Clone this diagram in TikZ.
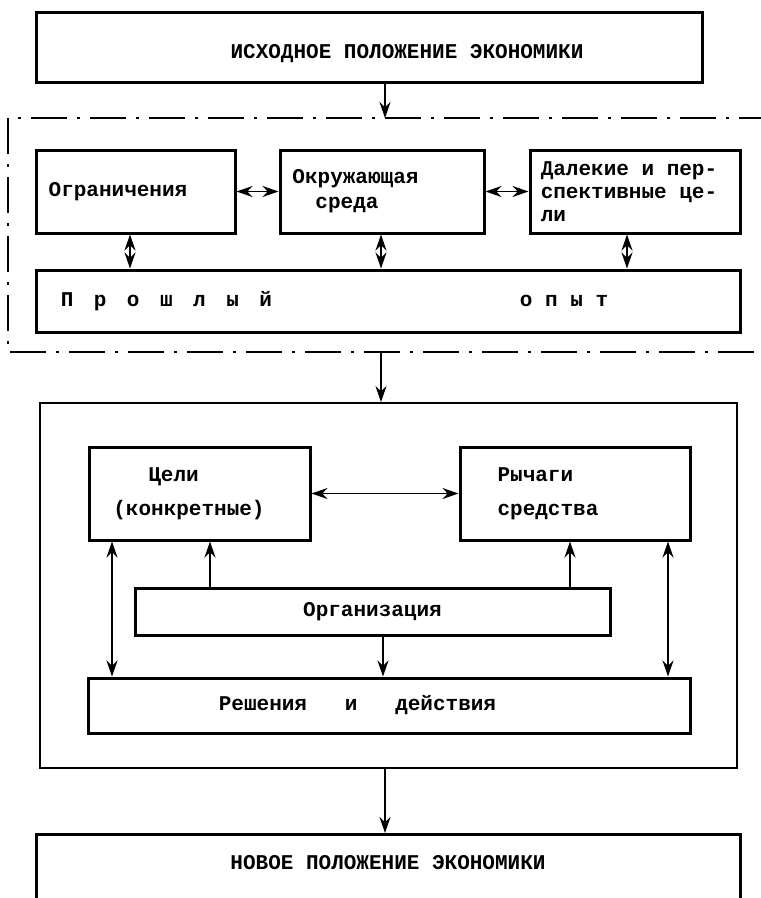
\documentclass[tikz,border=0pt]{standalone}
\usepackage{fontspec}
\setmainfont{Liberation Mono}
\usetikzlibrary{arrows.meta}
% fixed gap between the spaced-out letters of the "past experience" label
\newcommand\letgap{\hspace*{20.5pt}}
\begin{document}
\begin{tikzpicture}[x=1pt,y=-1pt,
  font=\fontsize{21}{25}\selectfont\bfseries,
  box/.style={draw, line width=3pt, inner sep=0pt, align=left},
  link/.style={line width=1.8pt, -{Stealth[length=16pt,width=11pt]}},
  dlink/.style={line width=1.8pt, {Stealth[length=16pt,width=11pt]}-{Stealth[length=16pt,width=11pt]}},
  frameline/.style={line width=2pt, dash pattern=on 36pt off 10pt on 3pt off 10pt}]

\clip (0,0) rectangle (761,898);
\fill[white] (0,0) rectangle (761,898);

% initial state
\node[box, minimum width=666, minimum height=70, text height=26pt, text depth=4pt]
  (start) at (369,47) {\hspace*{76pt}ИСХОДНОЕ ПОЛОЖЕНИЕ ЭКОНОМИКИ};

% dash-dot frame around the background factors (open on the right)
\draw[frameline] (775,118) -- (8,118) -- (8,352) -- (775,352);
\coordinate (ftop) at (385,118);
\coordinate (fbot) at (381,352);

\node[box, minimum width=199, minimum height=83] (lim) at (135.5,191.5)
  {Ограничения\hspace*{35pt}};
\node[box, minimum width=204, minimum height=83] (env) at (382,191.5)
  {Окружающая\hspace*{53pt}\\\hspace*{23pt}среда};
\node[box, minimum width=210, minimum height=83,
      font=\fontsize{21}{23}\selectfont\bfseries]
  (far) at (635,191.5) {Далекие и пер-\hspace*{12pt}\\спективные це-\\ли};
\node[box, minimum width=704, minimum height=62] (past) at (388,301)
  {П\letgap р\letgap о\letgap ш\letgap л\letgap ы\letgap й\hspace*{248pt}о п ы т\hspace*{107pt}};

\draw[link] (start.south -| ftop) -- (ftop);
\draw[dlink] (lim.east) -- (env.west);
\draw[dlink] (env.east) -- (far.west);
\draw[dlink] (lim.south -| 130,0) -- (past.north -| 130,0);
\draw[dlink] (env.south -| 381,0) -- (past.north -| 381,0);
\draw[dlink] (far.south -| 627,0) -- (past.north -| 627,0);

% decision block
\node[draw, line width=1.8pt, minimum width=697, minimum height=365, inner sep=0pt]
  (core) at (388.5,585.5) {};
\draw[link] (fbot) -- (fbot |- core.north);

\node[box, minimum width=221, minimum height=93] (goals) at (199.5,493.5)
  {\hspace*{35pt}Цели\\[9pt](конкретные)\hspace*{21pt}};
\node[box, minimum width=230, minimum height=93] (levers) at (575,493.5)
  {Рычаги\\[9pt]средства\hspace*{54pt}};
\node[box, minimum width=475, minimum height=47] (org) at (372.5,611.5)
  {Организация};
\node[box, minimum width=602, minimum height=55] (act) at (389,705.5)
  {Решения\ \ \ и\ \ \ действия\hspace*{63pt}};

\draw[dlink] (goals.east) -- (levers.west);
\draw[dlink] (goals.south -| 112,0) -- (act.north -| 112,0);
\draw[link] (org.north -| 210,0) -- (goals.south -| 210,0);
\draw[link] (org.north -| 570,0) -- (levers.south -| 570,0);
\draw[dlink] (levers.south -| 668,0) -- (act.north -| 668,0);
\draw[link] (org.south -| 383,0) -- (act.north -| 383,0);

% resulting state
\node[box, minimum width=704, minimum height=76, anchor=north, text height=14pt, text depth=20pt]
  (result) at (388,833) {НОВОЕ ПОЛОЖЕНИЕ ЭКОНОМИКИ};
\draw[link] (core.south -| 385,0) -- (result.north -| 385,0);
\end{tikzpicture}
\end{document}
